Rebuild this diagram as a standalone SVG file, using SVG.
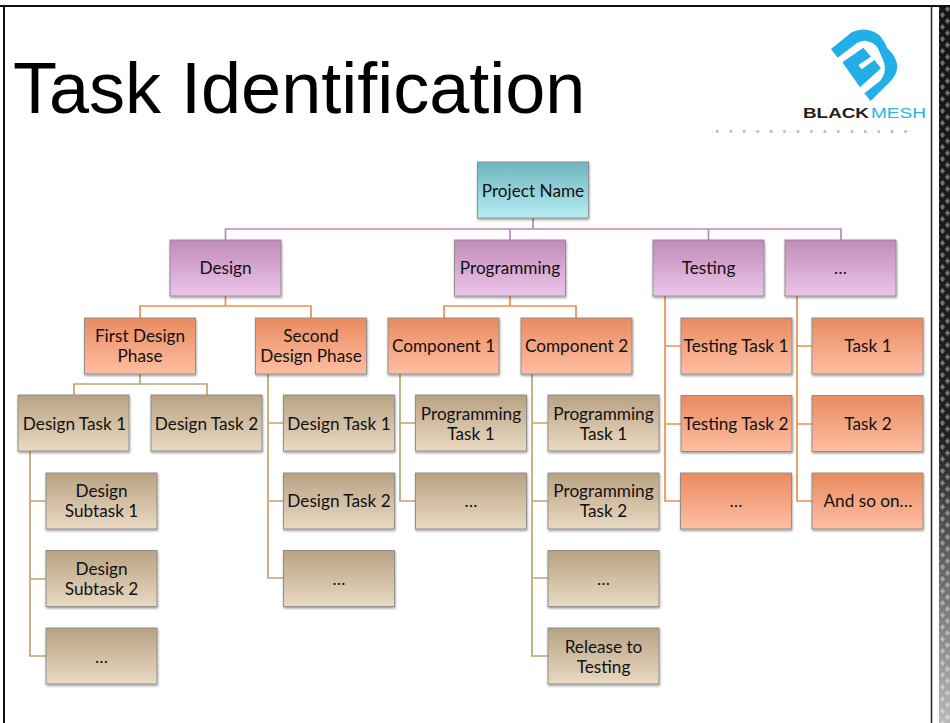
<svg xmlns="http://www.w3.org/2000/svg" width="950" height="723" viewBox="0 0 950 723">
<style>
.n{stroke:#8a8a8a;stroke-width:.9;filter:url(#sh)}
.t{font-family:"Lato","Open Sans",sans-serif;font-size:17.2px;fill:#111;text-anchor:middle}
.c{fill:none;stroke-width:1.7}
.p{stroke:#bb85bd}.o{stroke:#ec904f}.b{stroke:#c2a273}
.teal{fill:url(#gt)}.pur{fill:url(#gp)}.org{fill:url(#go)}.tan{fill:url(#gb)}
</style>
<defs>
<linearGradient id="gt" x1="0" y1="0" x2="0" y2="1"><stop offset="0" stop-color="#6fb4be"/><stop offset="1" stop-color="#b6edf4"/></linearGradient>
<linearGradient id="gp" x1="0" y1="0" x2="0" y2="1"><stop offset="0" stop-color="#c18bb8"/><stop offset="1" stop-color="#ecc5ea"/></linearGradient>
<linearGradient id="go" x1="0" y1="0" x2="0" y2="1"><stop offset="0" stop-color="#e88b60"/><stop offset="1" stop-color="#ffbea2"/></linearGradient>
<linearGradient id="gb" x1="0" y1="0" x2="0" y2="1"><stop offset="0" stop-color="#b9a283"/><stop offset="1" stop-color="#e9dac2"/></linearGradient>
<linearGradient id="fade" x1="0" y1="0" x2="0" y2="1"><stop offset="0" stop-color="#fff" stop-opacity="0"/><stop offset=".6" stop-color="#fff" stop-opacity=".05"/><stop offset="1" stop-color="#fff" stop-opacity=".7"/></linearGradient>
<filter id="sh" x="-5%" y="-5%" width="112%" height="116%"><feDropShadow dx="0.5" dy="1.5" stdDeviation="1" flood-color="#000" flood-opacity=".4"/></filter>
<pattern id="dm" width="10" height="12" patternUnits="userSpaceOnUse"><rect width="10" height="12" fill="#161616"/><path d="M2.500 0l2.500 3-2.500 3-2.500-3zM7.500 6l2.500 3-2.500 3-2.500-3z" fill="#6f6f6f"/></pattern>
</defs>
<rect width="950" height="723" fill="#fff"/>
<rect x="939" y="6" width="11" height="717" fill="url(#dm)"/>
<rect x="939" y="6" width="11" height="717" fill="url(#fade)"/>
<path d="M0 6H950M4 6V723" fill="none" stroke="#111" stroke-width="2"/>
<path d="M931.500 6V723" fill="none" stroke="#222" stroke-width="1.500"/>
<text x="13" y="112.500" font-family="Liberation Sans, Arial, sans-serif" font-size="72" fill="#000">Task Identification</text>
<g id="logo">
<g transform="translate(825 25) scale(.3333)" fill="#22aee6">
<path d="M18 72L80 22Q105 10 130 15Q165 22 180 55L187 70Q215 95 217 125Q215 150 195 170L137 228L118 205L165 168Q185 145 178 115L160 72Q148 50 120 47Q105 47 95 55L38 98Z"/>
<path d="M52 112L115 68L138 95L100 120L110 133L148 105L168 130L105 187Z"/>
</g>
<text x="803" y="118" font-family="Liberation Sans, Arial, sans-serif" font-size="15.500" font-weight="bold" fill="#231f20" textLength="66" lengthAdjust="spacingAndGlyphs">BLACK</text>
<text x="871" y="118" font-family="Liberation Sans, Arial, sans-serif" font-size="15.500" fill="#2fb0e6" textLength="55" lengthAdjust="spacingAndGlyphs">MESH</text>
</g>
<g id="dots" fill="#ddd" stroke="#888" stroke-width=".6">
<circle cx="717.300" cy="131.500" r="1.100"/><circle cx="730.800" cy="131.500" r="1.100"/><circle cx="744.200" cy="131.500" r="1.100"/><circle cx="757.700" cy="131.500" r="1.100"/><circle cx="771.100" cy="131.500" r="1.100"/><circle cx="784.600" cy="131.500" r="1.100"/><circle cx="798" cy="131.500" r="1.100"/><circle cx="811.400" cy="131.500" r="1.100"/><circle cx="824.900" cy="131.500" r="1.100"/><circle cx="838.300" cy="131.500" r="1.100"/><circle cx="851.800" cy="131.500" r="1.100"/><circle cx="865.200" cy="131.500" r="1.100"/><circle cx="878.700" cy="131.500" r="1.100"/><circle cx="892.100" cy="131.500" r="1.100"/><circle cx="905.600" cy="131.500" r="1.100"/>
</g>
<g id="connectors">
<path class="c p" d="M533 218V229M225.500 240V229H841V240M510 229V240M708.500 229V240"/>
<path class="c o" d="M225.500 296V306M140 318V306H311V318M510 296V306M444 318V306H576V318"/>
<path class="c o" d="M665 296V501H681M665 346H681M665 424H681M797 296V501H812M797 346H812M797 424H812"/>
<path class="c b" d="M140 374V384M74 395V384H207V395"/>
<path class="c b" d="M30 451V656H46M30 501H46M30 579H46"/>
<path class="c b" d="M268 374V578H283M268 423H283M268 501H283"/>
<path class="c b" d="M400 374V501H415M400 423H415"/>
<path class="c b" d="M532 374V656H548M532 423H548M532 501H548M532 578H548"/>
</g>
<g id="project"><rect class="n teal" x="477.500" y="162" width="111" height="56"/><text class="t" x="533" y="197">Project Name</text></g>
<g id="design"><rect class="n pur" x="170" y="240" width="111" height="56"/><text class="t" x="225.500" y="274">Design</text></g>
<g id="programming"><rect class="n pur" x="454.500" y="240" width="111" height="56"/><text class="t" x="510" y="274">Programming</text></g>
<g id="testing"><rect class="n pur" x="653" y="240" width="111" height="56"/><text class="t" x="708.500" y="274">Testing</text></g>
<g id="other"><rect class="n pur" x="785" y="240" width="111" height="56"/><text class="t" x="840.500" y="274">…</text></g>
<g id="first-phase"><rect class="n org" x="84.500" y="318" width="111" height="56"/><text class="t" x="140" y="342">First Design</text><text class="t" x="140" y="362">Phase</text></g>
<g id="second-phase"><rect class="n org" x="255.500" y="318" width="111" height="56"/><text class="t" x="311" y="342">Second</text><text class="t" x="311" y="362">Design Phase</text></g>
<g id="component1"><rect class="n org" x="388" y="318" width="111" height="56"/><text class="t" x="443.500" y="352">Component 1</text></g>
<g id="component2"><rect class="n org" x="521" y="318" width="111" height="56"/><text class="t" x="576.500" y="352">Component 2</text></g>
<g id="testing-task1"><rect class="n org" x="681" y="318" width="111" height="56"/><text class="t" x="736" y="352">Testing Task 1</text></g>
<g id="testing-task2"><rect class="n org" x="681" y="395.500" width="111" height="56"/><text class="t" x="736" y="430">Testing Task 2</text></g>
<g id="testing-more"><rect class="n org" x="680.500" y="473" width="111" height="56"/><text class="t" x="736" y="507">…</text></g>
<g id="task1"><rect class="n org" x="812" y="318" width="111" height="56"/><text class="t" x="868" y="352">Task 1</text></g>
<g id="task2"><rect class="n org" x="812" y="395.500" width="111" height="56"/><text class="t" x="868" y="430">Task 2</text></g>
<g id="and-so-on"><rect class="n org" x="812" y="473" width="111" height="56"/><text class="t" x="868" y="507">And so on…</text></g>
<g id="design-task1"><rect class="n tan" x="18" y="395" width="111" height="56"/><text class="t" x="74.500" y="430">Design Task 1</text></g>
<g id="design-task2"><rect class="n tan" x="151" y="395" width="111" height="56"/><text class="t" x="206.500" y="430">Design Task 2</text></g>
<g id="design-subtask1"><rect class="n tan" x="46" y="473" width="111" height="56"/><text class="t" x="101.500" y="497">Design</text><text class="t" x="101.500" y="517">Subtask 1</text></g>
<g id="design-subtask2"><rect class="n tan" x="46" y="550.500" width="111" height="56"/><text class="t" x="101.500" y="575">Design</text><text class="t" x="101.500" y="595">Subtask 2</text></g>
<g id="design-subtask-more"><rect class="n tan" x="46" y="628" width="111" height="56"/><text class="t" x="101.500" y="663">…</text></g>
<g id="second-task1"><rect class="n tan" x="283.500" y="395" width="111" height="56"/><text class="t" x="339" y="430">Design Task 1</text></g>
<g id="second-task2"><rect class="n tan" x="283.500" y="473" width="111" height="56"/><text class="t" x="339" y="507">Design Task 2</text></g>
<g id="second-more"><rect class="n tan" x="283.500" y="550.500" width="111" height="56"/><text class="t" x="339" y="585">…</text></g>
<g id="c1-task1"><rect class="n tan" x="415.500" y="395" width="111" height="56"/><text class="t" x="471" y="420">Programming</text><text class="t" x="471" y="440">Task 1</text></g>
<g id="c1-more"><rect class="n tan" x="415.500" y="473" width="111" height="56"/><text class="t" x="471" y="507">…</text></g>
<g id="c2-task1"><rect class="n tan" x="548" y="395" width="111" height="56"/><text class="t" x="603.500" y="420">Programming</text><text class="t" x="603.500" y="440">Task 1</text></g>
<g id="c2-task2"><rect class="n tan" x="548" y="473" width="111" height="56"/><text class="t" x="603.500" y="497">Programming</text><text class="t" x="603.500" y="517">Task 2</text></g>
<g id="c2-more"><rect class="n tan" x="548" y="550.500" width="111" height="56"/><text class="t" x="603.500" y="585">…</text></g>
<g id="release"><rect class="n tan" x="548" y="628" width="111" height="56"/><text class="t" x="603.500" y="653">Release to</text><text class="t" x="603.500" y="673">Testing</text></g>
</svg>
